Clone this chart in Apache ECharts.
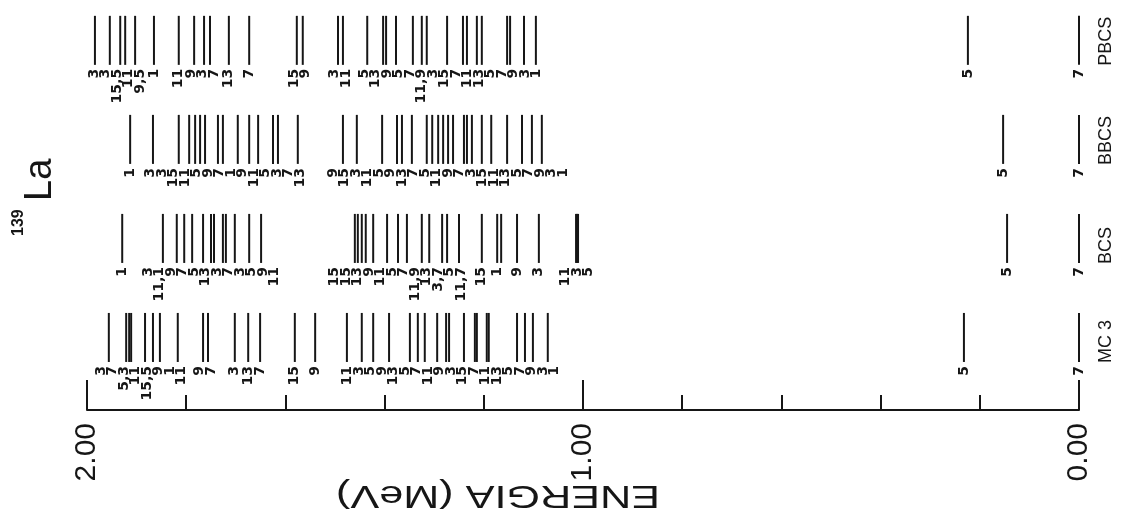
<!DOCTYPE html>
<html><head><meta charset="utf-8">
<script src="https://cdn.jsdelivr.net/npm/echarts@6/dist/echarts.min.js"></script>
<style>html,body{margin:0;padding:0;background:#fff}#c{width:1126px;height:525px}</style>
</head><body><div id="c"></div>
<script>
// ---- data (energies in MeV, spins 2J as printed; '' = unlabelled level) ----
const rowNames = ['MC 3', 'BCS', 'BBCS', 'PBCS'];
const axisTicks = [0, 1, 2];

const mc3Energy = [1.956, 1.921, 1.915, 1.911, 1.883, 1.867, 1.853, 1.817, 1.766, 1.756, 1.702, 1.675, 1.651,
  1.581, 1.540, 1.476, 1.446, 1.423,
  1.391, 1.349, 1.333, 1.319, 1.294, 1.276, 1.270, 1.240, 1.218, 1.214, 1.194, 1.190, 1.133, 1.117, 1.101, 1.071,
  0.232, 0];
const mc3Spin = ['3', '7', '5,3', '11', '15,5', '9', '1', '11', '9', '7', '3', '13', '7',
  '15', '9', '11', '3', '5',
  '9', '13', '5', '7', '11', '9', '3', '15', '7', '11', '13', '5', '7', '9', '3', '1',
  '5', '7'];

const bcsEnergy = [1.929, 1.847, 1.819, 1.804, 1.788, 1.766, 1.750, 1.744, 1.726, 1.720, 1.702, 1.673, 1.649,
  1.460, 1.454, 1.446, 1.438,
  1.423, 1.395, 1.373, 1.355, 1.325, 1.310, 1.284, 1.274, 1.250, 1.204, 1.173, 1.165, 1.133, 1.089,
  1.014, 1.012, 1.010,
  0.145, 0];
const bcsSpin = ['1', '3', '11,1', '9', '7', '5', '13', '3', '7', '3', '5', '9', '11',
  '15', '15', '13', '9',
  '11', '5', '7', '11,9', '13', '', '3,7', '5', '11,7', '15', '1', '', '9', '3',
  '11', '3', '5',
  '5', '7'];

const bbcsEnergy = [1.913, 1.867, 1.815, 1.794, 1.782, 1.772, 1.762, 1.736, 1.726, 1.696, 1.673, 1.655, 1.625, 1.615, 1.575, 1.484, 1.456,
  1.405, 1.375, 1.365, 1.345, 1.315, 1.304, 1.292, 1.282, 1.272, 1.262, 1.240, 1.234, 1.224, 1.204, 1.185, 1.153, 1.123, 1.103, 1.083,
  0.153, 0];
const bbcsSpin = ['1', '3', '3', '15', '11', '5', '9', '7', '1', '9', '11', '5', '3', '7', '13', '9', '15',
  '3', '11', '5', '9', '13', '7', '5', '11', '9', '7', '3', '15', '11', '13', '5', '7', '9', '3', '1',
  '5', '7'];

const pbcsEnergy = [1.984, 1.954, 1.933, 1.923, 1.903, 1.865, 1.815, 1.784, 1.764, 1.752, 1.714, 1.673,
  1.577, 1.565, 1.494, 1.484, 1.435,
  1.403, 1.397, 1.377, 1.343, 1.325, 1.315, 1.274, 1.242, 1.234, 1.214, 1.204, 1.153, 1.147, 1.119, 1.095,
  0.224, 0];
const pbcsSpin = ['3', '3', '15,5', '11', '9,5', '1', '11', '9', '3', '7', '13', '7',
  '15', '9', '3', '11', '5',
  '13', '9', '5', '7', '11,9', '3', '15', '7', '11', '13', '5', '7', '9', '3', '1',
  '5', '7'];

const rowsData = [
  { energy: mc3Energy, spin: mc3Spin },
  { energy: bcsEnergy, spin: bcsSpin },
  { energy: bbcsEnergy, spin: bbcsSpin },
  { energy: pbcsEnergy, spin: pbcsSpin }
];

// ---- styling ----
const INK = '#161616';
const LABEL_FONT = 'bold 14px "DejaVu Sans"';
const LINE_TOP = 0.98, LINE_BOTTOM = 0.485;
const MIN_GAP = 11.5;

// spread crowded labels symmetrically around their levels (pixel space)
function fan(xs, labels, gap) {
  const order = xs.map((x, i) => i).filter(i => labels[i] !== '').sort((a, b) => xs[a] - xs[b]);
  let groups = order.map(i => ({ idx: [i], sum: xs[i] }));
  const start = g => g.sum / g.idx.length - (g.idx.length - 1) * gap / 2;
  let changed = true;
  while (changed) {
    changed = false;
    for (let k = 0; k < groups.length - 1; k++) {
      const a = groups[k], b = groups[k + 1];
      if (start(a) + a.idx.length * gap > start(b) + 1e-6) {
        a.idx = a.idx.concat(b.idx); a.sum += b.sum;
        groups.splice(k + 1, 1); changed = true; break;
      }
    }
  }
  const out = xs.slice();
  groups.forEach(g => { const s = start(g); g.idx.forEach((i, k) => { out[i] = s + k * gap; }); });
  return out;
}

function rowSeries(r) {
  const energies = rowsData[r].energy, spins = rowsData[r].spin;
  return {
    type: 'custom', coordinateSystem: 'cartesian2d', xAxisIndex: 0, yAxisIndex: 0,
    clip: false, silent: true,
    data: energies.map(e => [e, r]),
    encode: { x: 0, y: 1 },
    renderItem: function (params, api) {
      const i = params.dataIndex;
      const px = energies.map(e => api.coord([e, r])[0]);
      const lx = fan(px, spins, MIN_GAP);
      const x = px[i];
      const yTop = api.coord([energies[i], r + LINE_TOP])[1];
      const yBot = api.coord([energies[i], r + LINE_BOTTOM])[1];
      const children = [
        { type: 'line', shape: { x1: x, y1: yTop, x2: x, y2: yBot },
          style: { stroke: INK, lineWidth: 2 } }
      ];
      if (spins[i] !== '') {
        children.push({ type: 'text', x: lx[i], y: yBot + 4, rotation: Math.PI / 2,
          style: { text: spins[i], font: LABEL_FONT, fill: INK, align: 'right', verticalAlign: 'middle' } });
      }
      return { type: 'group', children: children };
    }
  };
}

const nameSeries = {
  type: 'custom', coordinateSystem: 'cartesian2d', clip: false, silent: true,
  data: rowNames.map((n, r) => [0, r]),
  encode: { x: 0, y: 1 },
  renderItem: function (params, api) {
    const r = params.dataIndex;
    const p = api.coord([0, r + LINE_BOTTOM]);
    return { type: 'text', x: p[0] + 27, y: p[1] + 1, rotation: Math.PI / 2,
      style: { text: rowNames[r], font: '18px "Liberation Sans"', fill: INK, align: 'left', verticalAlign: 'middle' } };
  }
};

const chart = echarts.init(document.getElementById('c'), null, { renderer: 'canvas' });
chart.setOption({
  animation: false,
  backgroundColor: '#ffffff',
  grid: { left: 87, right: 47, top: 0, bottom: 115, containLabel: false },
  xAxis: [
    { type: 'value', min: 0, max: 2, interval: 0.2, inverse: true, position: 'bottom',
      axisLine: { show: true, onZero: false, lineStyle: { color: INK, width: 2 } },
      axisTick: { show: true, inside: true, length: 15, lineStyle: { color: INK, width: 2 } },
      axisLabel: { show: false }, splitLine: { show: false } },
    { type: 'value', min: 0, max: 2, interval: 1, inverse: true, position: 'bottom', offset: 0,
      axisLine: { show: false },
      axisTick: { show: true, inside: true, length: 30, lineStyle: { color: INK, width: 2 } },
      axisLabel: { show: true, rotate: 90, margin: 13, color: INK, fontSize: 30, fontFamily: 'Liberation Sans',
        formatter: v => axisTicks.indexOf(v) >= 0 ? v.toFixed(2) : '' },
      splitLine: { show: false } }
  ],
  yAxis: { type: 'value', min: 0, max: 4.14, show: false },
  series: [rowSeries(0), rowSeries(1), rowSeries(2), rowSeries(3), nameSeries],
  graphic: [
    { type: 'text', x: 41, y: 201, rotation: Math.PI / 2,
      style: { text: 'La', font: '38px "Liberation Sans"', fill: INK, align: 'left', verticalAlign: 'middle' } },
    { type: 'text', x: 19, y: 236, rotation: Math.PI / 2,
      style: { text: '139', font: 'bold 16px "Liberation Sans"', fill: INK, align: 'left', verticalAlign: 'middle' } },
    { type: 'text', x: 498, y: 495, rotation: Math.PI, scaleX: 1.35,
      style: { text: 'ENERGIA (MeV)', font: '32px "Liberation Sans"', fill: INK, align: 'center', verticalAlign: 'middle' } }
  ]
});
</script></body></html>
